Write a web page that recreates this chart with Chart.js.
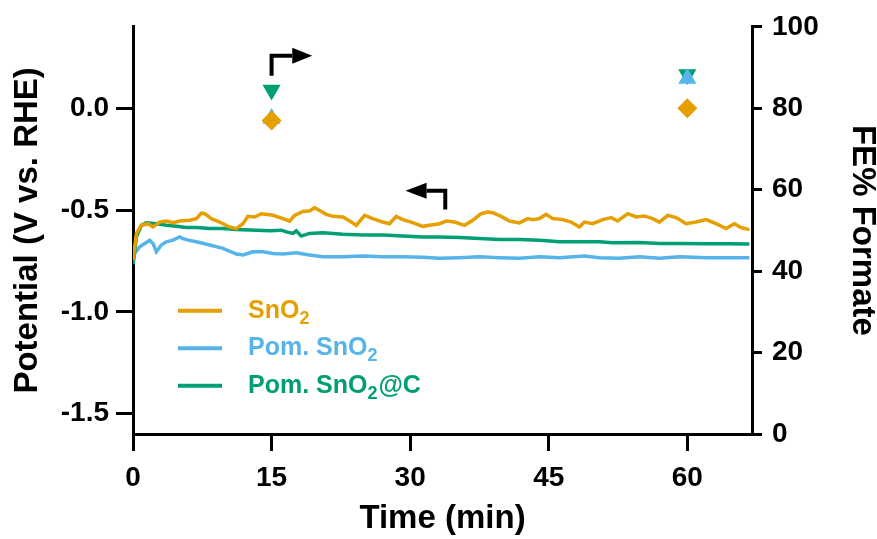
<!DOCTYPE html>
<html>
<head>
<meta charset="utf-8">
<script src="https://cdn.jsdelivr.net/npm/chart.js@4.4.1/dist/chart.umd.min.js"></script>
<style>
  html, body { margin: 0; padding: 0; background: #ffffff; }
  canvas { display: block; }
</style>
</head>
<body>
<canvas id="chart" width="877" height="539"></canvas>
<script>
// ---- axis ticks ----
const timeTicks = [0, 15, 30, 45, 60];
const potentialTicks = [-1.5, -1.0, -0.5, 0.0];
const feTicks = [0, 20, 40, 60, 80, 100];

// ---- chronopotentiometry traces (time in min, potential in V vs. RHE) ----
const snO2Time = [0, 0.37, 0.91, 1.62, 2.16, 2.89, 3.61, 4.33, 5.05, 6.13, 6.86, 7.40, 7.76, 8.48, 9.38,
  10.28, 11.19, 11.9, 12.44, 13.17, 13.89, 15.15, 16.23, 16.95, 17.49, 18.39, 19.1, 19.66, 20.2, 20.92,
  21.64, 22.72, 23.63, 24.17, 25.07, 25.96, 27.04, 27.77, 28.49, 29.21, 30.12, 31.37, 32.1, 33.18, 33.9,
  34.8, 35.88, 36.78, 37.69, 38.4, 38.94, 39.85, 40.75, 41.83, 42.73, 43.27, 44.0, 44.72, 45.43, 46.52,
  47.42, 48.32, 48.86, 49.76, 50.84, 51.75, 52.47, 53.55, 54.46, 55.36, 56.25, 56.98, 57.88, 58.78, 59.87,
  60.95, 62.03, 63.11, 64.19, 65.09, 65.81, 66.71];
const snO2Potential = [-0.745, -0.615, -0.575, -0.567, -0.583, -0.559, -0.554, -0.562, -0.554, -0.550,
  -0.542, -0.515, -0.518, -0.542, -0.559, -0.580, -0.591, -0.567, -0.531, -0.534, -0.518, -0.526, -0.542,
  -0.555, -0.526, -0.507, -0.505, -0.489, -0.502, -0.521, -0.531, -0.534, -0.559, -0.575, -0.526, -0.542,
  -0.559, -0.567, -0.531, -0.547, -0.559, -0.580, -0.575, -0.567, -0.554, -0.559, -0.575, -0.550, -0.518,
  -0.510, -0.513, -0.531, -0.554, -0.563, -0.542, -0.547, -0.542, -0.521, -0.542, -0.547, -0.559, -0.583,
  -0.559, -0.567, -0.547, -0.537, -0.554, -0.518, -0.534, -0.529, -0.542, -0.559, -0.526, -0.537, -0.567,
  -0.559, -0.547, -0.567, -0.591, -0.567, -0.586, -0.596];

const pomSnO2Time = [0, 0.18, 0.72, 1.27, 1.81, 2.16, 2.53, 3.07, 3.61, 4.33, 5.05, 5.41, 5.95, 6.86, 8.3,
  9.74, 11.19, 11.9, 12.98, 14.06, 15.15, 16.23, 17.67, 19.1, 20.55, 22.72, 24.88, 27.04, 29.21, 31.37,
  33.18, 35.34, 37.51, 39.67, 41.83, 44.0, 46.16, 48.86, 50.48, 52.64, 54.81, 56.98, 59.14, 62.03, 64.19, 66.71];
const pomSnO2Potential = [-0.765, -0.713, -0.680, -0.664, -0.648, -0.664, -0.705, -0.672, -0.656, -0.648,
  -0.632, -0.640, -0.648, -0.656, -0.672, -0.688, -0.716, -0.721, -0.705, -0.705, -0.713, -0.716, -0.710,
  -0.721, -0.729, -0.729, -0.726, -0.729, -0.729, -0.732, -0.737, -0.734, -0.729, -0.734, -0.737, -0.729,
  -0.734, -0.726, -0.734, -0.737, -0.729, -0.737, -0.729, -0.734, -0.734, -0.734];

const pomSnO2CTime = [0, 0.37, 0.91, 1.45, 2.53, 3.61, 4.69, 5.77, 6.86, 8.3, 9.74, 11.19, 13.35, 14.79,
  16.05, 16.59, 17.31, 17.67, 18.21, 19.1, 20.55, 22.72, 24.88, 27.04, 29.21, 31.37, 33.18, 35.34, 37.51,
  39.67, 41.83, 44.0, 46.16, 48.32, 50.48, 51.93, 54.81, 56.98, 59.14, 62.03, 64.19, 66.71];
const pomSnO2CPotential = [-0.765, -0.632, -0.575, -0.563, -0.567, -0.575, -0.580, -0.586, -0.586, -0.591,
  -0.591, -0.596, -0.599, -0.602, -0.599, -0.607, -0.615, -0.602, -0.628, -0.615, -0.612, -0.619, -0.623,
  -0.623, -0.628, -0.632, -0.632, -0.635, -0.640, -0.645, -0.645, -0.648, -0.656, -0.656, -0.656, -0.661,
  -0.659, -0.664, -0.664, -0.665, -0.666, -0.667];

// ---- Faradaic efficiency of formate (%) sampled at 15 and 60 min ----
const feTime = [15, 60];
const feSnO2 = [77, 80];
const fePomSnO2 = [77.5, 87.3];
const fePomSnO2C = [84.5, 88.3];

const ORANGE = '#E69F00';
const SKY = '#56B4E9';
const GREEN = '#009E73';
const FONT = "'Liberation Sans', Arial, sans-serif";

const pairs = (xs, ys) => xs.map((x, i) => ({ x, y: ys[i] }));

// legend rows: [main text, subscript, trailing text, colour]
const legendRows = [
  ['SnO', '2', '', ORANGE],
  ['Pom. SnO', '2', '', SKY],
  ['Pom. SnO', '2', '@C', GREEN]
];

function drawArrow(ctx, x0, y0, xc, yc, xTip, headLen, headHalf) {
  const dir = Math.sign(xTip - xc);
  ctx.beginPath();
  ctx.moveTo(x0, y0);
  ctx.lineTo(xc, yc);
  ctx.lineTo(xTip - dir * headLen, yc);
  ctx.stroke();
  ctx.beginPath();
  ctx.moveTo(xTip, yc);
  ctx.lineTo(xTip - dir * headLen, yc - headHalf);
  ctx.lineTo(xTip - dir * headLen, yc + headHalf);
  ctx.closePath();
  ctx.fill();
}

const decorations = {
  id: 'decorations',
  afterDatasetsDraw(chart) {
    const { ctx, chartArea, scales } = chart;
    const x = scales.x, yL = scales.y, yR = scales.y2;
    ctx.save();
    // axis-direction arrows
    ctx.strokeStyle = '#000';
    ctx.fillStyle = '#000';
    ctx.lineWidth = 4;
    ctx.lineJoin = 'miter';
    ctx.lineCap = 'butt';
    drawArrow(ctx, x.getPixelForValue(15), yR.getPixelForValue(88),
      x.getPixelForValue(15), yR.getPixelForValue(92.9),
      x.getPixelForValue(19.4), 20, 8);
    drawArrow(ctx, x.getPixelForValue(33.8), yL.getPixelForValue(-0.497),
      x.getPixelForValue(33.8), yL.getPixelForValue(-0.405),
      x.getPixelForValue(29.5), 21, 8);

    // legend with subscripts
    const lx = chartArea.left + 45;
    const tx = chartArea.left + 115;
    let base = chartArea.top + 291;
    const gap = 37.5;
    legendRows.forEach(([main, sub, tail, col]) => {
      ctx.strokeStyle = col;
      ctx.lineWidth = 4;
      ctx.beginPath();
      ctx.moveTo(lx, base - 7);
      ctx.lineTo(lx + 44, base - 7);
      ctx.stroke();
      ctx.fillStyle = col;
      ctx.textBaseline = 'alphabetic';
      ctx.textAlign = 'left';
      ctx.font = `bold 25px ${FONT}`;
      let cx = tx;
      ctx.fillText(main, cx, base);
      cx += ctx.measureText(main).width;
      ctx.font = `bold 18px ${FONT}`;
      ctx.fillText(sub, cx, base + 6);
      cx += ctx.measureText(sub).width;
      if (tail) {
        ctx.font = `bold 25px ${FONT}`;
        ctx.fillText(tail, cx + 1, base);
      }
      base += gap;
    });
    ctx.restore();
  }
};

const axisLine = { display: true, color: '#000', width: 3 };
const tickFont = { family: FONT, size: 28, weight: 'bold' };
const titleFont = { family: FONT, size: 33, weight: 'bold', lineHeight: 1.2 };

new Chart(document.getElementById('chart'), {
  type: 'scatter',
  data: {
    datasets: [
      { label: 'SnO2', data: pairs(snO2Time, snO2Potential), yAxisID: 'y', showLine: true,
        borderColor: ORANGE, borderWidth: 3.5, pointRadius: 0, tension: 0, order: 4 },
      { label: 'Pom. SnO2', data: pairs(pomSnO2Time, pomSnO2Potential), yAxisID: 'y', showLine: true,
        borderColor: SKY, borderWidth: 3.5, pointRadius: 0, tension: 0, order: 6 },
      { label: 'Pom. SnO2@C', data: pairs(pomSnO2CTime, pomSnO2CPotential), yAxisID: 'y', showLine: true,
        borderColor: GREEN, borderWidth: 3.5, pointRadius: 0, tension: 0, order: 5 },
      { label: 'FE SnO2', data: pairs(feTime, feSnO2), yAxisID: 'y2', showLine: false,
        pointStyle: 'rectRot', pointRadius: 10, backgroundColor: ORANGE, borderWidth: 0, order: 1 },
      { label: 'FE Pom. SnO2', data: pairs(feTime, fePomSnO2), yAxisID: 'y2', showLine: false,
        pointStyle: 'triangle', pointRadius: 10.5, backgroundColor: SKY, borderWidth: 0, order: 2 },
      { label: 'FE Pom. SnO2@C', data: pairs(feTime, fePomSnO2C), yAxisID: 'y2', showLine: false,
        pointStyle: 'triangle', pointRotation: 180, pointRadius: 10.5, backgroundColor: GREEN, borderWidth: 0, order: 3 }
    ]
  },
  options: {
    responsive: false,
    animation: false,
    devicePixelRatio: 1,
    layout: { padding: { top: 24, left: 0, right: 0, bottom: 0 } },
    plugins: { legend: { display: false }, tooltip: { enabled: false } },
    scales: {
      x: {
        type: 'linear', min: 0, max: 67,
        afterBuildTicks: s => { s.ticks = timeTicks.map(v => ({ value: v })); },
        afterFit: s => { s.height = 105; },
        border: axisLine,
        grid: { drawOnChartArea: false, drawTicks: true, tickLength: 17, color: '#000', lineWidth: 3 },
        ticks: { font: tickFont, color: '#000', padding: 10, maxRotation: 0 },
        title: { display: true, text: 'Time (min)', font: titleFont, color: '#000', padding: { top: 0, bottom: 0 } }
      },
      y: {
        type: 'linear', position: 'left', min: -1.6, max: 0.4,
        afterBuildTicks: s => { s.ticks = potentialTicks.map(v => ({ value: v })); },
        afterFit: s => { s.width = 133; },
        border: axisLine,
        grid: { drawOnChartArea: false, drawTicks: true, tickLength: 17, color: '#000', lineWidth: 3 },
        ticks: { font: tickFont, color: '#000', padding: 7, callback: v => v.toFixed(1) },
        title: { display: true, text: 'Potential (V vs. RHE)', font: titleFont, color: '#000', padding: { top: 8, bottom: 0 } }
      },
      y2: {
        type: 'linear', position: 'right', min: 0, max: 100,
        afterBuildTicks: s => { s.ticks = feTicks.map(v => ({ value: v })); },
        afterFit: s => { s.width = 125; },
        border: axisLine,
        grid: { drawOnChartArea: false, drawTicks: true, tickLength: 10, color: '#000', lineWidth: 3 },
        ticks: { font: tickFont, color: '#000', padding: 10 },
        title: { display: true, text: 'FE% Formate', font: { ...titleFont, lineHeight: 0.9 }, color: '#000', padding: { top: 0, bottom: 0 } }
      }
    }
  },
  plugins: [decorations]
});
</script>
</body>
</html>
